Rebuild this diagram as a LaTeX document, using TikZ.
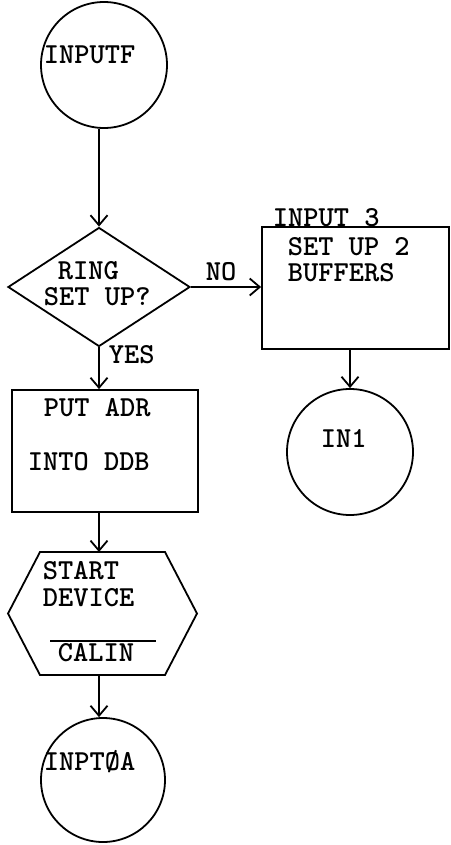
\documentclass[tikz,border=0pt]{standalone}
\usetikzlibrary{shapes.geometric,arrows.meta}

\begin{document}
\begin{tikzpicture}[x=1pt,y=-1pt,line width=1.8pt,
  term/.style={draw,circle,minimum size=126pt,inner sep=0pt},
  box/.style={draw,rectangle,minimum width=187pt,minimum height=122pt,inner sep=0pt},
  test/.style={draw,diamond,minimum width=182pt,minimum height=119pt,inner sep=0pt},
  txt/.style={anchor=west,inner sep=0pt,font=\ttfamily\bfseries\fontsize{29}{29}\selectfont},
  flow/.style={-{Straight Barb[length=10pt,width=17pt]}}]
\useasboundingbox (0,0) rectangle (450,845);

\node[term] (inputf) at (104,65) {};
\node[test] (ring) at (99,287) {};
\node[box] (bufs) at (355.5,288) {};
\node[term] (in1) at (350,452) {};
\node[box,minimum width=186pt] (ptr) at (105,451) {};
\node[minimum width=189pt,minimum height=123pt,inner sep=0pt,outer sep=0pt] (dev) at (102.5,613.5) {};
\node[term,minimum size=124pt] (inpt) at (103,780) {};

\draw ([xshift=32pt]dev.north west) -- ([xshift=-32pt]dev.north east) -- (dev.east)
  -- ([xshift=-32pt]dev.south east) -- ([xshift=32pt]dev.south west) -- (dev.west) -- cycle;

\node[txt] (inputf-t) at (43,55) {INPUTF};
\node[txt] (ring-t1) at (57,271) {RING};
\node[txt] (ring-t2) at (43,297) {SET UP?};
\node[txt] (no-t) at (205,272) {NO};
\node[txt] (yes-t) at (108,355) {YES};
\node[txt] (bufs-n) at (272,218) {INPUT 3};
\node[txt] (bufs-t1) at (287,247) {SET UP 2};
\node[txt] (bufs-t2) at (287,273) {BUFFERS};
\node[txt] (in1-t) at (320,438) {IN1};
\node[txt] (ptr-t1) at (43,408) {PUT ADR};
\node[txt] (ptr-t2) at (27,462) {INTO DDB};
\node[txt] (dev-t1) at (42,571) {START};
\node[txt] (dev-t2) at (42,598) {DEVICE};
\node[txt] (dev-t3) at (57,653) {CALIN};
\node[txt] (inpt-t) at (43,762) {INPTØA};

\coordinate (bar-l) at (50,641);
\coordinate (bar-r) at (156,641);
\draw[line width=1.2pt] (bar-l) -- (bar-r);

\draw[flow] (inputf.south -| ring.north) -- (ring.north);
\draw[flow] (ring.south) -- (ptr.north -| ring.south);
\draw[flow] (ring.east) -- (ring.east -| bufs.west);
\draw[flow] (bufs.south -| in1.north) -- (in1.north);
\draw[flow] (ptr.south -| ring.south) -- (dev.north -| ring.south);
\draw[flow] (dev.south -| ring.south) -- (inpt.north -| ring.south);
\end{tikzpicture}
\end{document}
